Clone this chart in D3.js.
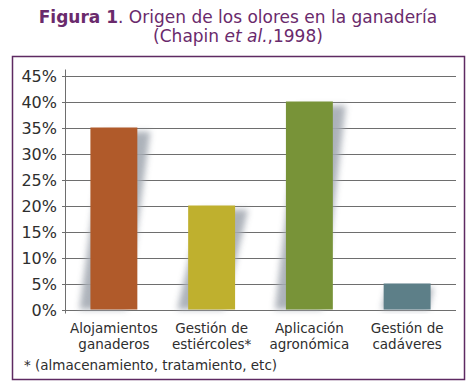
<!DOCTYPE html>
<html lang="es">
<head>
<meta charset="utf-8">
<title>Origen de los olores en la ganadería</title>
<script src="https://cdn.jsdelivr.net/npm/d3@7"></script>
<style>
  body { margin: 0; background: #fff; }
  svg { display: block; font-family: "DejaVu Sans", sans-serif; }
  .title { fill: #6a2a6c; font-size: 17px; }
  .tick-label { fill: #2e2e2e; font-size: 16px; }
  .cat-label { fill: #2e2e2e; font-size: 13.5px; }
  .grid line { stroke: #6e6e6e; stroke-width: 1; }
</style>
</head>
<body>
<div id="viz"></div>
<script>
// DATA
var categories = [["Alojamientos", "ganaderos"], ["Gestión de", "estiércoles*"], ["Aplicación", "agronómica"], ["Gestión de", "cadáveres"]];
var values = [35, 20, 40, 5];
var colors = ["#b05a2a", "#bfb02e", "#789338", "#5d7f88"];
var yTicks = [0, 5, 10, 15, 20, 25, 30, 35, 40, 45];

var w = 476, h = 391;

var svg = d3.select("#viz").append("svg")
  .attr("width", w)
  .attr("height", h);

// blur for the bar shadows
svg.append("defs").append("filter")
  .attr("id", "blur")
  .attr("x", "-50%").attr("y", "-20%").attr("width", "200%").attr("height", "140%")
  .append("feGaussianBlur")
  .attr("stdDeviation", 3);

// TITLE
var t1 = svg.append("text").attr("class", "title")
  .attr("x", 238).attr("y", 23).attr("text-anchor", "middle");
t1.append("tspan").attr("font-weight", "bold").text("Figura 1");
t1.append("tspan").text(". Origen de los olores en la ganadería");

var t2 = svg.append("text").attr("class", "title")
  .attr("x", 238).attr("y", 42).attr("text-anchor", "middle");
t2.append("tspan").text("(Chapin ");
t2.append("tspan").attr("font-style", "italic").text("et al.");
t2.append("tspan").text(",1998)");

// FRAME
svg.append("rect")
  .attr("x", 12.5).attr("y", 56.5)
  .attr("width", 452).attr("height", 323)
  .attr("fill", "none")
  .attr("stroke", "#5e2a62")
  .attr("stroke-width", 1.5);

// SCALES
var x = d3.scaleBand()
  .domain(d3.range(categories.length))
  .range([65, 456])
  .paddingInner(0.52)
  .paddingOuter(0.26);

var y = d3.scaleLinear()
  .domain([0, 45])
  .range([309.5, 75.5]);

// GRID
var grid = svg.append("g").attr("class", "grid");
grid.selectAll("line")
  .data(yTicks)
  .enter().append("line")
  .attr("x1", 62).attr("x2", 456)
  .attr("y1", function(d) { return Math.round(y(d)) + 0.5; })
  .attr("y2", function(d) { return Math.round(y(d)) + 0.5; });
grid.append("line")
  .attr("x1", 65.5).attr("x2", 65.5)
  .attr("y1", y(45) - 6).attr("y2", y(0) + 4);

svg.selectAll(".tick-label")
  .data(yTicks)
  .enter().append("text")
  .attr("class", "tick-label")
  .attr("x", 57)
  .attr("y", function(d) { return y(d) + 6; })
  .attr("text-anchor", "end")
  .text(function(d) { return d + "%"; });

// SHADOWS (slanted, blurred)
svg.append("g").selectAll("path")
  .data(values)
  .enter().append("path")
  .attr("fill", "#a4aab3")
  .attr("opacity", 0.9)
  .attr("filter", "url(#blur)")
  .attr("d", function(d, i) {
    var x0 = x(i), bw = x.bandwidth(), top = y(d) + 4, base = y(0);
    var dxTop = 13, dxBot = -11;
    if (d < 10) { dxTop = 3; dxBot = -2; }
    return "M" + (x0 + dxTop) + "," + top +
      "L" + (x0 + bw + dxTop) + "," + top +
      "L" + (x0 + bw + dxBot) + "," + base +
      "L" + (x0 + dxBot) + "," + base + "Z";
  });

// BARS
svg.append("g").selectAll("rect")
  .data(values)
  .enter().append("rect")
  .attr("x", function(d, i) { return x(i); })
  .attr("y", function(d) { return y(d); })
  .attr("width", x.bandwidth())
  .attr("height", function(d) { return y(0) - y(d); })
  .attr("fill", function(d, i) { return colors[i]; });

// CATEGORY LABELS
var cl = svg.selectAll(".cat-label")
  .data(categories)
  .enter().append("text")
  .attr("class", "cat-label")
  .attr("text-anchor", "middle");
cl.selectAll("tspan")
  .data(function(d, i) { return d.map(function(s) { return { s: s, i: i }; }); })
  .enter().append("tspan")
  .attr("x", function(d) { return x(d.i) + x.bandwidth() / 2; })
  .attr("y", function(d, j) { return 333 + j * 16; })
  .text(function(d) { return d.s; });

// FOOTNOTE
svg.append("text")
  .attr("class", "cat-label")
  .attr("x", 24).attr("y", 370)
  .text("* (almacenamiento, tratamiento, etc)");
</script>
</body>
</html>
